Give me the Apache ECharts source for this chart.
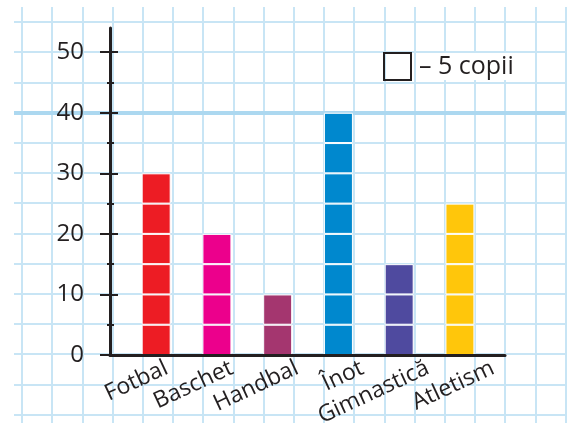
<!DOCTYPE html>
<html>
<head>
<meta charset="utf-8">
<script src="https://cdn.jsdelivr.net/npm/echarts@6/dist/echarts.min.js"></script>
<style>
    html, body { margin: 0; padding: 0; background: #fff; }
    #myChart { width: 569px; height: 427px; }
</style>
</head>
<body>
<div id="myChart"></div>
<script>
// date
const categories = ['Fotbal', 'Baschet', 'Handbal', 'Înot', 'Gimnastică', 'Atletism'];
const copii = [30, 20, 10, 40, 15, 25];
const unit = 5; // un patratel = 5 copii
const yTicks = [0, 10, 20, 30, 40, 50];
const yMinorTicks = [5, 15, 25, 35, 45];
const legendLabel = '– 5 copii';

const barColors = ['#ed1c24', '#ec008c', '#a4366f', '#0088ce', '#4f4a9f', '#ffc60b'];
const ink = '#231f20';
const paperLine = '#c8e5f5';
const font = 'Open Sans';

const yMax = 54;
const cell = 30.2; // latura patratelului de pe caiet

let myChart = echarts.init(document.getElementById('myChart'));

// cate un rand de patratele pentru fiecare "etaj" de 5
let segments = [];
let levels = Math.max(...copii) / unit;
for (let k = 0; k < levels; k++) {
    segments.push({
        type: 'bar',
        stack: 'copii',
        xAxisIndex: 2,
        yAxisIndex: 5,
        barWidth: 29,
        silent: true,
        data: copii.map(v => v >= (k + 1) * unit ? unit : '-'),
        itemStyle: {
            color: params => barColors[params.dataIndex],
            borderColor: '#fff',
            borderWidth: 1
        }
    });
}

const common = { top: 28, bottom: 72, outerBoundsMode: 'none' };
const hidden = { axisLine: { show: false }, axisLabel: { show: false }, splitLine: { show: false } };

myChart.setOption({
    animation: false,
    textStyle: { fontFamily: font },
    grid: [
        // foaia de caiet
        { left: -cell + 22, top: -cell + 22, width: cell * 19, height: cell * 15, outerBoundsMode: 'none' },
        // axele
        { left: 110, right: 64, ...common },
        // barele
        { left: 125.8, right: 78.7, ...common },
        // etichetele categoriilor
        { left: 134, width: 391.6, ...common }
    ],
    legend: {
        left: 383,
        top: 52,
        padding: 0,
        selectedMode: false,
        icon: 'rect',
        itemWidth: 27,
        itemHeight: 27,
        itemStyle: { color: 'rgba(0,0,0,0)', borderColor: ink, borderWidth: 2 },
        textStyle: { fontSize: 25, color: ink, backgroundColor: '#fff', padding: [1, 4, 1, 3] },
        data: [legendLabel]
    },
    xAxis: [
        {
            gridIndex: 0, type: 'value', min: 0, max: 19, interval: 1,
            axisLine: { show: false }, axisTick: { show: false }, axisLabel: { show: false },
            splitLine: { lineStyle: { color: paperLine, width: 2 } }
        },
        {
            gridIndex: 1, type: 'value', min: 0, max: 1, z: 10,
            axisLine: { lineStyle: { color: ink, width: 3 } },
            axisTick: { show: false }, axisLabel: { show: false }, splitLine: { show: false }
        },
        {
            gridIndex: 2, type: 'category', data: categories,
            axisLine: { show: false }, axisTick: { show: false }, axisLabel: { show: false }
        },
        {
            gridIndex: 3, type: 'category', data: categories, z: 10,
            axisLine: { show: false }, axisTick: { show: false },
            axisLabel: { rotate: 25, margin: 12, fontSize: 23, color: ink, interval: 0 }
        }
    ],
    yAxis: [
        {
            gridIndex: 0, type: 'value', inverse: true, min: 0, max: 15, interval: 1,
            axisLine: { show: false }, axisTick: { show: false }, axisLabel: { show: false },
            splitLine: { lineStyle: { color: paperLine, width: 2 } }
        },
        {
            gridIndex: 1, type: 'value', position: 'left', offset: 0, min: 0, max: yMax, z: 10,
            axisLine: { show: true, lineStyle: { color: ink, width: 3 } },
            axisTick: { show: true, length: 10, lineStyle: { color: ink, width: 2 }, customValues: yTicks },
            axisLabel: { fontSize: 24, color: ink, margin: 26, customValues: yTicks },
            splitLine: { show: false }
        },
        {
            // partea din dreapta a liniutelor
            gridIndex: 1, type: 'value', position: 'left', offset: 0, min: 0, max: yMax, z: 10, ...hidden,
            axisTick: { show: true, inside: true, length: 8, lineStyle: { color: ink, width: 2 }, customValues: yTicks }
        },
        {
            gridIndex: 1, type: 'value', position: 'left', offset: 0, min: 0, max: yMax, z: 10, ...hidden,
            axisTick: { show: true, length: 3, lineStyle: { color: ink, width: 2 }, customValues: yMinorTicks }
        },
        {
            gridIndex: 1, type: 'value', position: 'left', offset: 0, min: 0, max: yMax, z: 10, ...hidden,
            axisTick: { show: true, inside: true, length: 4, lineStyle: { color: ink, width: 2 }, customValues: yMinorTicks }
        },
        {
            gridIndex: 2, type: 'value', min: 0, max: yMax, show: false
        },
        {
            gridIndex: 3, type: 'value', min: 0, max: yMax, show: false
        }
    ],
    graphic: [
        // marginile albe ale foii
        { type: 'rect', z: 100, silent: true, shape: { x: 0, y: 0, width: 14, height: 427 }, style: { fill: '#fff' } },
        { type: 'rect', z: 100, silent: true, shape: { x: 0, y: 0, width: 569, height: 7 }, style: { fill: '#fff' } },
        { type: 'rect', z: 100, silent: true, shape: { x: 0, y: 423, width: 569, height: 4 }, style: { fill: '#fff' } }
    ],
    series: [
        {
            // linia mai groasa de pe caiet
            type: 'line', xAxisIndex: 0, yAxisIndex: 0, silent: true, z: 1,
            data: [[0, 0]], showSymbol: false, lineStyle: { opacity: 0 },
            markLine: {
                silent: true, symbol: 'none', label: { show: false }, z: 1,
                lineStyle: { color: '#acd8f0', width: 4, type: 'solid' },
                data: [{ yAxis: 4 }]
            }
        },
        {
            name: legendLabel, type: 'bar', xAxisIndex: 2, yAxisIndex: 5, data: []
        },
        ...segments
    ]
});
</script>
</body>
</html>
